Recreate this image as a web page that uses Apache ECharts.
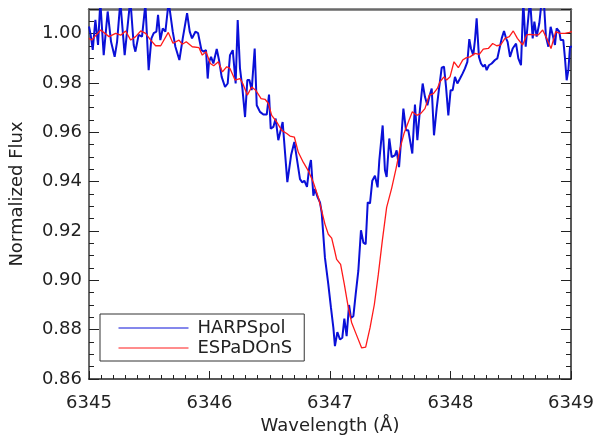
<!DOCTYPE html>
<html>
<head>
<meta charset="utf-8">
<script src="https://cdn.jsdelivr.net/npm/echarts@6/dist/echarts.min.js"></script>
<style>html,body{margin:0;padding:0;background:#fff}#c{width:597px;height:435px}</style>
</head>
<body>
<div id="c"></div>
<script>
const wlHarps = [6345.000,6345.014,6345.031,6345.053,6345.075,6345.094,6345.122,6345.155,6345.183,6345.213,6345.233,6345.260,6345.296,6345.343,6345.371,6345.385,6345.412,6345.440,6345.468,6345.495,6345.518,6345.537,6345.559,6345.573,6345.592,6345.612,6345.634,6345.661,6345.695,6345.717,6345.750,6345.778,6345.814,6345.836,6345.855,6345.883,6345.905,6345.933,6345.952,6345.971,6345.985,
6345.996,6346.013,6346.032,6346.060,6346.079,6346.101,6346.129,6346.151,6346.170,6346.193,6346.217,6346.234,6346.253,6346.273,6346.295,6346.314,6346.331,6346.350,6346.375,6346.392,6346.419,6346.447,6346.475,6346.494,6346.508,6346.530,6346.549,6346.571,6346.607,6346.646,6346.677,6346.704,
6346.732,6346.751,6346.770,6346.787,6346.809,6346.828,6346.842,6346.862,6346.875,6346.898,6346.917,6346.931,6346.958,6346.986,6347.008,6347.028,6347.041,6347.061,6347.083,6347.102,6347.119,6347.138,6347.158,6347.174,6347.194,6347.213,6347.235,6347.257,6347.277,6347.296,6347.313,6347.332,6347.351,6347.373,6347.395,6347.409,
6347.437,6347.456,6347.470,6347.492,6347.512,6347.539,6347.553,6347.573,6347.589,6347.609,6347.631,6347.650,6347.664,6347.683,6347.705,6347.725,6347.747,6347.769,6347.788,6347.808,6347.824,6347.844,6347.863,6347.885,6347.905,6347.927,6347.946,6347.963,6347.982,6348.001,6348.018,6348.037,6348.057,6348.079,6348.101,6348.120,6348.140,6348.156,6348.170,6348.189,6348.203,6348.217,6348.236,6348.253,6348.272,6348.286,6348.300,6348.319,6348.342,6348.369,6348.389,6348.405,6348.425,6348.444,6348.461,6348.474,6348.494,6348.516,6348.544,6348.563,6348.585,6348.604,6348.624,6348.640,6348.660,6348.682,6348.696,6348.715,6348.737,6348.756,6348.776,6348.792,6348.812,6348.831,6348.848,6348.867,6348.881,6348.903,6348.914,6348.936,6348.950,6348.964,6348.978,6348.992,6349.008];
const fluxHarps = [1.0029,0.9995,0.9934,1.0056,0.9954,1.013,0.9913,1.009,0.9967,0.9906,0.9967,1.013,0.9913,1.014,0.9954,0.9927,0.9995,0.9988,1.012,0.9852,0.9981,1.0002,1.0008,1.0076,0.9974,1.0021,1.0008,1.013,1.0008,0.9947,0.9893,0.9981,1.0083,1.0008,0.9981,1.0008,1.0002,0.9934,0.9927,0.9934,0.9818,
0.9886,0.9906,0.9879,0.9938,0.9893,0.9825,0.9784,0.9798,0.9913,0.9933,0.9798,1.0055,0.9859,0.9778,0.9662,0.9812,0.9812,0.9771,0.9940,0.9710,0.9683,0.9672,0.9672,0.9753,0.9615,0.9622,0.9656,0.9568,0.9642,0.9398,0.9507,0.9561,
0.9471,0.9410,0.9397,0.9404,0.9379,0.9458,0.9488,0.9343,0.9370,0.9336,0.9316,0.9275,0.9092,0.8984,0.8889,0.8807,0.8733,0.8790,0.8760,0.8767,0.8845,0.8774,0.8900,0.8848,0.8855,0.8943,0.9038,0.9203,0.9153,0.9146,0.9316,0.9312,0.9404,0.9424,0.9377,0.9485,
0.9628,0.9446,0.9419,0.9575,0.9500,0.9507,0.9527,0.9459,0.9561,0.9696,0.9608,0.9608,0.9602,0.9514,0.9713,0.9568,0.9696,0.9798,0.9744,0.9710,0.9744,0.9778,0.9588,0.9696,0.9778,0.9862,0.9866,0.9784,0.9669,0.9771,0.9771,0.9825,0.9798,0.9818,0.9839,0.9859,0.9886,0.9978,0.9940,0.9913,0.9974,1.0062,0.9906,0.9879,0.9866,0.9875,0.9852,0.9872,0.9879,0.9893,0.9900,0.9893,0.9981,1.0011,0.9981,0.9967,0.9906,0.9940,0.9960,0.9900,0.9872,1.013,0.9947,1.0035,1.014,0.9981,1.0049,0.9988,1.0042,1.013,1.012,0.9988,0.9947,1.0028,0.9995,0.9954,1.0022,1.0008,0.9974,0.9974,0.9900,0.9811,0.9852,0.9947,0.9947];

const wlEsp = [6345.000,6345.022,6345.097,6345.166,6345.221,6345.263,6345.304,6345.346,6345.387,6345.429,6345.470,6345.512,6345.553,6345.595,6345.658,6345.697,6345.747,6345.774,6345.807,6345.857,6345.913,6345.940,6345.971,6346.007,6346.035,
6346.074,6346.107,6346.143,6346.170,6346.212,6346.253,6346.276,6346.314,6346.350,6346.383,6346.428,6346.461,6346.489,6346.516,6346.558,6346.599,6346.641,6346.668,6346.704,
6346.737,6346.779,6346.820,6346.862,6346.903,6346.931,6346.958,6346.986,6347.014,6347.036,6347.055,6347.088,6347.119,6347.152,6347.180,6347.213,6347.263,6347.296,6347.332,6347.368,6347.401,6347.434,6347.470,6347.512,
6347.548,6347.581,6347.614,6347.650,6347.683,6347.719,6347.752,6347.788,6347.824,6347.858,6347.891,6347.913,6347.946,6347.968,6347.996,6348.029,6348.065,6348.101,6348.129,6348.162,6348.203,6348.239,6348.272,6348.314,6348.350,6348.383,6348.416,6348.452,6348.488,6348.521,6348.555,6348.599,6348.632,6348.660,6348.693,6348.729,6348.765,6348.798,6348.834,6348.873,6348.909,6348.950,6348.986,6349.008];
const fluxEsp = [0.9981,0.9974,1.0015,0.9988,1.0001,0.9994,1.0011,0.9974,0.9988,1.0011,1.0001,0.9974,0.9951,0.9951,1.0005,0.9961,0.9974,0.9957,0.9967,0.9947,0.9943,0.9913,0.9927,0.9879,0.9870,
0.9886,0.9845,0.9866,0.9859,0.9812,0.9818,0.9798,0.9751,0.9784,0.9771,0.9737,0.9734,0.9717,0.9669,0.9642,0.9608,0.9595,0.9585,0.9581,
0.9519,0.9478,0.9444,0.9397,0.9336,0.9282,0.9228,0.9187,0.9171,0.9126,0.9085,0.9065,0.8984,0.8889,0.8828,0.8787,0.8726,0.8729,0.8807,0.8902,0.9024,0.9160,0.9296,0.9374,
0.9453,0.9534,0.9595,0.9642,0.9683,0.9669,0.9676,0.9696,0.9751,0.9757,0.9778,0.9805,0.9825,0.9812,0.9825,0.9886,0.9862,0.9893,0.9902,0.9906,0.9920,0.9916,0.9937,0.9940,0.9960,0.9951,0.9954,0.9981,0.9988,1.0011,0.9981,0.9954,0.9995,0.9997,0.9995,0.9995,1.0015,0.9981,0.9940,1.0008,1.0001,1.0001,1.0005,1.0008];

const xTicks = [6345, 6346, 6347, 6348, 6349];
const yTickLabels = ['0.86','0.88','0.90','0.92','0.94','0.96','0.98','1.00'];

const FONT = 'DejaVu Sans';
const TXT = '#222';
const chart = echarts.init(document.getElementById('c'), null, {renderer: 'canvas'});
const pairs = (xs, ys) => xs.map((x, i) => [x, ys[i]]);

chart.setOption({
  animation: false,
  backgroundColor: '#fff',
  grid: {left: 89, right: 26, top: 9, bottom: 56, containLabel: false, outerBoundsMode: 'none'},
  legend: {
    left: 100, top: 314,
    orient: 'vertical',
    data: ['HARPSpol', 'ESPaDOnS'],
    backgroundColor: '#fff',
    borderColor: '#333', borderWidth: 1,
    padding: [5, 12, 4, 18],
    itemWidth: 70, itemHeight: 14, itemGap: 2,
    textStyle: {fontFamily: FONT, fontSize: 18, lineHeight: 16, color: TXT, padding: [0, 0, 0, 4]},
    itemStyle: {opacity: 0},
    lineStyle: {width: 1}
  },
  xAxis: [{
    type: 'value', min: xTicks[0], max: xTicks[xTicks.length - 1], interval: 1,
    name: 'Wavelength (Å)', nameLocation: 'middle', nameGap: 37,
    nameTextStyle: {fontFamily: FONT, fontSize: 18, color: TXT},
    axisLine: {show: true, onZero: false, lineStyle: {color: '#222', width: 1.5}},
    axisTick: {show: true, inside: true, length: 8, lineStyle: {color: '#222', width: 1}},
    minorTick: {show: true, splitNumber: 10, length: 4, lineStyle: {color: '#222', width: 1}},
    axisLabel: {fontFamily: FONT, fontSize: 18, color: TXT, margin: 15,
      formatter: v => String(v)},
    splitLine: {show: false}
  }, {
    type: 'value', position: 'top', min: xTicks[0], max: xTicks[xTicks.length - 1], interval: 1,
    axisLine: {show: true, onZero: false, lineStyle: {color: '#6a6a6a', width: 2.5}},
    axisTick: {show: false}, axisLabel: {show: false}, splitLine: {show: false}
  }],
  yAxis: [{
    type: 'value', min: 0.86, max: 1.01, interval: 0.02,
    name: 'Normalized Flux', nameLocation: 'middle', nameGap: 63,
    nameTextStyle: {fontFamily: FONT, fontSize: 18, color: TXT},
    axisLine: {show: true, onZero: false, lineStyle: {color: '#6a6a6a', width: 2}},
    axisTick: {show: true, inside: true, length: 10, lineStyle: {color: '#222', width: 1}},
    minorTick: {show: true, splitNumber: 4, length: 5, lineStyle: {color: '#222', width: 1}},
    axisLabel: {fontFamily: FONT, fontSize: 18, color: TXT, margin: 7, padding: [4, 0, 0, 0],
      showMaxLabel: false,
      formatter: v => { const i = Math.round((v - 0.86) / 0.02); return yTickLabels[i] || ''; }},
    splitLine: {show: false}
  }, {
    type: 'value', position: 'right', min: 0.86, max: 1.01, interval: 0.02,
    axisLine: {show: true, onZero: false, lineStyle: {color: '#222', width: 1.5}},
    axisTick: {show: true, inside: true, length: 10, lineStyle: {color: '#222', width: 1}},
    minorTick: {show: true, splitNumber: 4, length: 5, lineStyle: {color: '#222', width: 1}},
    axisLabel: {show: false}, splitLine: {show: false}
  }],
  series: [{
    name: 'HARPSpol', type: 'line', xAxisIndex: 0, yAxisIndex: 0,
    data: pairs(wlHarps, fluxHarps),
    symbol: 'none', clip: true,
    lineStyle: {color: '#0a10d8', width: 2},
    itemStyle: {color: '#3344ff'}
  }, {
    name: 'ESPaDOnS', type: 'line', xAxisIndex: 0, yAxisIndex: 0,
    data: pairs(wlEsp, fluxEsp),
    symbol: 'none', clip: true,
    lineStyle: {color: '#ff1a1a', width: 1.3},
    itemStyle: {color: '#ff2a2a'}
  }]
});
</script>
</body>
</html>
